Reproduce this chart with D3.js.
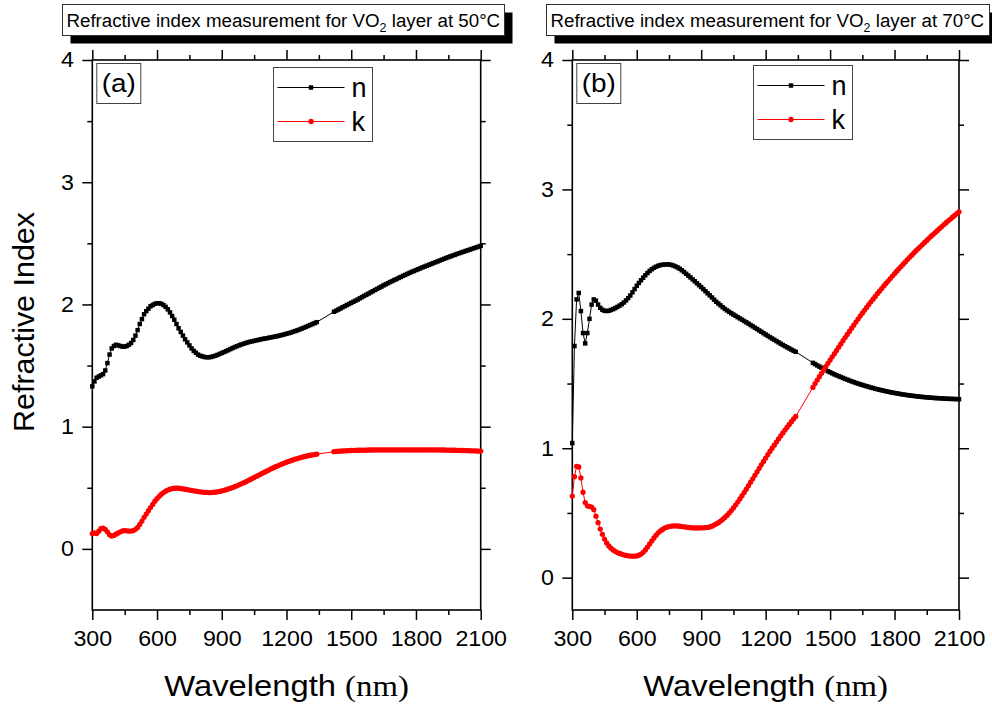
<!DOCTYPE html>
<html>
<head>
<meta charset="utf-8">
<script src="https://d3js.org/d3.v7.min.js"></script>
<style>
    body { margin: 0; background: #fff; }
    svg { display: block; font-family: 'Liberation Sans', Arial, sans-serif; }
    .tick line { stroke: #000; stroke-width: 1.5; }
    .tick text { fill: #000; }
</style>
</head>
<body>
<script>
// wavelength grid (nm): visible detector 300-1340, NIR detector 1420-2100
const wlVis = d3.range(300, 1341, 10);
const wlIr = d3.range(1420, 2101, 10);
const wavelengths = wlVis.concat(wlIr);

const xMajor = [300, 600, 900, 1200, 1500, 1800, 2100];
const xMinor = [450, 750, 1050, 1350, 1650, 1950];
const yMajor = [0, 1, 2, 3, 4];
const yMinor = [0.5, 1.5, 2.5, 3.5];

// (a) 50°C
const nA = [
    1.33, 1.37, 1.40, 1.41, 1.42, 1.43, 1.46, 1.52, 1.59, 1.64,
    1.66, 1.67, 1.665, 1.66, 1.655, 1.655, 1.66, 1.67, 1.685, 1.71,
    1.745, 1.79, 1.84, 1.88, 1.92, 1.945, 1.965, 1.985, 1.995, 2.005,
    2.01, 2.01, 2.005, 1.995, 1.98, 1.96, 1.935, 1.905, 1.875, 1.84,
    1.805, 1.775, 1.745, 1.715, 1.69, 1.665, 1.64, 1.62, 1.605, 1.59,
    1.58, 1.575, 1.57, 1.568, 1.568, 1.57, 1.575, 1.58, 1.587, 1.595,
    1.603, 1.61, 1.618, 1.626, 1.635, 1.643, 1.651, 1.658, 1.665, 1.672,
    1.678, 1.684, 1.689, 1.694, 1.698, 1.702, 1.706, 1.71, 1.714, 1.718,
    1.721, 1.724, 1.728, 1.731, 1.735, 1.738, 1.742, 1.746, 1.75, 1.755,
    1.76, 1.765, 1.77, 1.776, 1.782, 1.788, 1.795, 1.802, 1.809, 1.816,
    1.824, 1.832, 1.84, 1.847, 1.855,
    1.94, 1.949, 1.958, 1.967, 1.977, 1.986, 1.995, 2.004, 2.013, 2.022,
    2.031, 2.04, 2.05, 2.06, 2.07, 2.079, 2.089, 2.099, 2.108, 2.118,
    2.127, 2.137, 2.146, 2.156, 2.165, 2.174, 2.183, 2.191, 2.2, 2.208,
    2.217, 2.225, 2.234, 2.242, 2.25, 2.258, 2.266, 2.273, 2.281, 2.288,
    2.295, 2.303, 2.31, 2.317, 2.324, 2.331, 2.338, 2.345, 2.352, 2.359,
    2.366, 2.373, 2.38, 2.387, 2.393, 2.4, 2.406, 2.413, 2.419, 2.425,
    2.431, 2.437, 2.443, 2.449, 2.455, 2.461, 2.467, 2.473, 2.479
];
const kA = [
    0.125, 0.13, 0.125, 0.145, 0.165, 0.17, 0.16, 0.14, 0.115, 0.105,
    0.11, 0.12, 0.13, 0.14, 0.147, 0.15, 0.148, 0.146, 0.146, 0.15,
    0.16, 0.175, 0.2, 0.228, 0.258, 0.285, 0.312, 0.338, 0.364, 0.39,
    0.412, 0.43, 0.447, 0.461, 0.472, 0.481, 0.488, 0.493, 0.496, 0.497,
    0.496, 0.494, 0.491, 0.488, 0.485, 0.481, 0.478, 0.475, 0.472, 0.469,
    0.467, 0.465, 0.463, 0.462, 0.461, 0.461, 0.462, 0.464, 0.467, 0.47,
    0.474, 0.479, 0.484, 0.49, 0.496, 0.502, 0.509, 0.516, 0.524, 0.532,
    0.54, 0.548, 0.557, 0.566, 0.575, 0.584, 0.593, 0.602, 0.611, 0.62,
    0.629, 0.638, 0.647, 0.656, 0.664, 0.672, 0.68, 0.688, 0.695, 0.702,
    0.709, 0.716, 0.722, 0.728, 0.734, 0.739, 0.744, 0.749, 0.754, 0.758,
    0.762, 0.766, 0.769, 0.772, 0.775,
    0.795, 0.797, 0.799, 0.8, 0.801, 0.802, 0.803, 0.804, 0.805, 0.806,
    0.806, 0.807, 0.807, 0.808, 0.808, 0.808, 0.809, 0.809, 0.809, 0.81,
    0.81, 0.81, 0.81, 0.81, 0.81, 0.81, 0.81, 0.81, 0.81, 0.81,
    0.81, 0.81, 0.81, 0.81, 0.81, 0.81, 0.81, 0.81, 0.81, 0.81,
    0.81, 0.81, 0.81, 0.81, 0.81, 0.81, 0.81, 0.81, 0.81, 0.809,
    0.809, 0.809, 0.808, 0.808, 0.808, 0.807, 0.807, 0.806, 0.806, 0.805,
    0.805, 0.804, 0.804, 0.803, 0.802, 0.802, 0.801, 0.8, 0.8
];

// (b) 70°C
const nB = [
    1.04, 1.79, 2.15, 2.20, 2.06, 1.89, 1.81, 1.89, 2.0, 2.11,
    2.15, 2.14, 2.11, 2.085, 2.07, 2.062, 2.06, 2.062, 2.068, 2.075,
    2.083, 2.092, 2.102, 2.113, 2.126, 2.142, 2.16, 2.18, 2.205, 2.23,
    2.255, 2.277, 2.298, 2.318, 2.337, 2.354, 2.37, 2.383, 2.394, 2.403,
    2.41, 2.415, 2.418, 2.42, 2.421, 2.42, 2.417, 2.412, 2.405, 2.397,
    2.387, 2.375, 2.362, 2.348, 2.334, 2.32, 2.305, 2.29, 2.275, 2.26,
    2.245, 2.229, 2.213, 2.197, 2.181, 2.165, 2.148, 2.132, 2.118, 2.104,
    2.09, 2.077, 2.065, 2.054, 2.043, 2.033, 2.023, 2.013, 2.003, 1.993,
    1.983, 1.973, 1.963, 1.952, 1.942, 1.931, 1.921, 1.91, 1.9, 1.889,
    1.879, 1.868, 1.858, 1.848, 1.838, 1.828, 1.818, 1.808, 1.798, 1.789,
    1.78, 1.771, 1.762, 1.753, 1.745,
    1.66, 1.65, 1.64, 1.631, 1.622, 1.613, 1.604, 1.595, 1.587, 1.579,
    1.571, 1.564, 1.557, 1.55, 1.543, 1.536, 1.53, 1.523, 1.517, 1.511,
    1.505, 1.5, 1.494, 1.489, 1.484, 1.479, 1.474, 1.469, 1.465, 1.46,
    1.456, 1.452, 1.448, 1.444, 1.44, 1.437, 1.433, 1.43, 1.427, 1.424,
    1.421, 1.418, 1.415, 1.413, 1.41, 1.408, 1.406, 1.404, 1.402, 1.4,
    1.398, 1.396, 1.395, 1.393, 1.392, 1.39, 1.389, 1.388, 1.387, 1.386,
    1.385, 1.384, 1.383, 1.382, 1.381, 1.381, 1.38, 1.38, 1.379
];
const kB = [
    0.63, 0.78, 0.86, 0.855, 0.77, 0.66, 0.58, 0.555, 0.55, 0.545,
    0.525, 0.475, 0.425, 0.375, 0.335, 0.298, 0.268, 0.245, 0.228, 0.214,
    0.203, 0.194, 0.187, 0.181, 0.176, 0.172, 0.169, 0.167, 0.166, 0.166,
    0.168, 0.173, 0.182, 0.196, 0.214, 0.236, 0.26, 0.284, 0.307, 0.328,
    0.346, 0.361, 0.373, 0.383, 0.39, 0.395, 0.398, 0.4, 0.4, 0.399,
    0.397, 0.395, 0.393, 0.39, 0.388, 0.386, 0.385, 0.384, 0.384, 0.384,
    0.385, 0.385, 0.386, 0.388, 0.392, 0.398, 0.406, 0.415, 0.425, 0.437,
    0.45, 0.465, 0.481, 0.499, 0.518, 0.539, 0.561, 0.584, 0.608, 0.633,
    0.658, 0.684, 0.71, 0.737, 0.764, 0.791, 0.818, 0.845, 0.872, 0.898,
    0.924, 0.95, 0.975, 1.0, 1.024, 1.048, 1.072, 1.095, 1.118, 1.14,
    1.162, 1.184, 1.205, 1.226, 1.246,
    1.47, 1.5, 1.527, 1.553, 1.579, 1.605, 1.631, 1.656, 1.681, 1.706,
    1.731, 1.756, 1.781, 1.806, 1.831, 1.855, 1.879, 1.903, 1.927, 1.951,
    1.975, 1.998, 2.021, 2.044, 2.066, 2.088, 2.11, 2.131, 2.152, 2.173,
    2.194, 2.214, 2.234, 2.254, 2.273, 2.292, 2.311, 2.33, 2.349, 2.368,
    2.386, 2.404, 2.422, 2.44, 2.458, 2.475, 2.492, 2.509, 2.526, 2.542,
    2.558, 2.574, 2.59, 2.606, 2.622, 2.638, 2.653, 2.668, 2.683, 2.698,
    2.713, 2.728, 2.743, 2.757, 2.771, 2.785, 2.799, 2.813, 2.827
];

const width = 992, height = 706;
const stretch = 'scale(1.08,1)';   // the source figure's lettering is slightly wide
const svg = d3.select('body').append('svg')
    .attr('width', width)
    .attr('height', height);
svg.append('rect').attr('width', width).attr('height', height).attr('fill', '#fff');

const nSym = d3.symbol().type(d3.symbolSquare).size(20);
const kSym = d3.symbol().type(d3.symbolCircle).size(22);

function drawPanel(p) {
    const x = d3.scaleLinear().domain([300, 2100]).range([p.left, p.right]);
    const y = d3.scaleLinear().domain(p.yDomain).range([p.bottom, p.top]);
    const g = svg.append('g');

    // title box with drop shadow
    g.append('rect')
        .attr('x', p.titleX + 8).attr('y', p.titleY + 8)
        .attr('width', p.titleW).attr('height', 31)
        .attr('fill', '#000');
    g.append('rect')
        .attr('x', p.titleX).attr('y', p.titleY)
        .attr('width', p.titleW).attr('height', 31)
        .attr('fill', '#fff').attr('stroke', '#333').attr('stroke-width', 1);
    const t = g.append('text')
        .attr('transform', 'translate(' + (p.titleX + 4) + ',' + (p.titleY + 22) + ') scale(1.04,1)')
        .attr('font-size', 18)
        .text('Refractive index measurement for VO');
    t.append('tspan').attr('dy', 5).attr('font-size', 12).text('2');
    t.append('tspan').attr('dy', -5).text(' layer at ' + p.temp + '°C');

    // axes: major ticks labelled on left/bottom, mirrored unlabelled on top/right
    const axes = [
        [d3.axisBottom(x), xMajor, 'translate(0,' + p.bottom + ')', true],
        [d3.axisTop(x), xMajor, 'translate(0,' + p.top + ')', false],
        [d3.axisLeft(y), yMajor, 'translate(' + p.left + ',0)', true],
        [d3.axisRight(y), yMajor, 'translate(' + p.right + ',0)', false]
    ];
    const minorVals = [xMinor, xMinor, yMinor, yMinor];
    axes.forEach((a, i) => {
        const maj = a[0].tickValues(a[1]).tickSize(10).tickSizeOuter(0)
            .tickPadding(i < 2 ? 11 : 7)
            .tickFormat(a[3] ? d3.format('d') : '');
        const ga = g.append('g').attr('transform', a[2]).call(maj);
        ga.select('.domain').remove();
        ga.selectAll('text')
            .attr('font-size', 21.5)
            .attr('font-family', "'Liberation Sans', Arial, sans-serif")
            .attr('transform', stretch);
        const minor = (i === 0 ? d3.axisBottom(x) : i === 1 ? d3.axisTop(x) : i === 2 ? d3.axisLeft(y) : d3.axisRight(y))
            .tickValues(minorVals[i]).tickSize(5).tickFormat('');
        const gm = g.append('g').attr('transform', a[2]).call(minor);
        gm.select('.domain').remove();
    });

    g.append('rect')
        .attr('x', p.left).attr('y', p.top)
        .attr('width', p.right - p.left).attr('height', p.bottom - p.top)
        .attr('fill', 'none').attr('stroke', '#000').attr('stroke-width', 1.6);

    // data
    const series = [
        { vals: p.n, color: '#000', sym: nSym },
        { vals: p.k, color: '#ff0000', sym: kSym }
    ];
    series.forEach(s => {
        const pts = wavelengths.map((w, i) => [w, s.vals[i]]);
        g.append('path')
            .attr('d', d3.line().x(d => x(d[0])).y(d => y(d[1]))(pts))
            .attr('fill', 'none').attr('stroke', s.color).attr('stroke-width', 1);
        g.append('g').selectAll('path')
            .data(pts).join('path')
            .attr('transform', d => 'translate(' + x(d[0]) + ',' + y(d[1]) + ')')
            .attr('d', s.sym)
            .attr('fill', s.color);
    });

    // panel label box
    g.append('rect')
        .attr('x', p.left + 4.5).attr('y', p.top + 3.5)
        .attr('width', 44).attr('height', 40)
        .attr('fill', '#fff').attr('stroke', '#444').attr('stroke-width', 1);
    g.append('text')
        .attr('transform', 'translate(' + (p.left + 26.5) + ',' + (p.top + 32) + ') scale(1.12,1)')
        .attr('text-anchor', 'middle').attr('font-size', 25)
        .text(p.label);

    // legend
    const lg = g.append('g').attr('transform', 'translate(' + p.legX + ',' + p.legY + ')');
    lg.append('rect')
        .attr('width', 99).attr('height', 74)
        .attr('fill', '#fff').attr('stroke', '#444').attr('stroke-width', 1);
    [['n', '#000', nSym, 20], ['k', '#ff0000', kSym, 54]].forEach(e => {
        lg.append('line')
            .attr('x1', 4).attr('x2', 71).attr('y1', e[3]).attr('y2', e[3])
            .attr('stroke', e[1]).attr('stroke-width', 1);
        lg.append('path')
            .attr('transform', 'translate(37.5,' + e[3] + ')')
            .attr('d', e[2]).attr('fill', e[1]);
        lg.append('text')
            .attr('x', 78).attr('y', e[3] + 9)
            .attr('font-size', 27).text(e[0]);
    });

    // x axis title
    const xt = g.append('text')
        .attr('transform', 'translate(' + ((p.left + p.right) / 2) + ',696) scale(1.13,1)')
        .attr('text-anchor', 'middle').attr('font-size', 29)
        .text('Wavelength ');
    xt.append('tspan').attr('font-family', "'Liberation Serif', 'Times New Roman', serif").text('(nm)');
}

drawPanel({
    left: 92.3, right: 480.7, top: 60, bottom: 610,
    yDomain: [-0.5, 4], n: nA, k: kA, temp: 50, label: '(a)',
    titleX: 62.5, titleY: 4.5, titleW: 442, legX: 273.5, legY: 67.5
});
drawPanel({
    left: 572.3, right: 959, top: 60, bottom: 610,
    yDomain: [-0.25, 4], n: nB, k: kB, temp: 70, label: '(b)',
    titleX: 546.5, titleY: 4.5, titleW: 443, legX: 753.5, legY: 65.5
});

// shared y axis title
svg.append('text')
    .attr('transform', 'translate(34,322) rotate(-90) scale(1.05,1)')
    .attr('text-anchor', 'middle').attr('font-size', 29)
    .text('Refractive Index');
</script>
</body>
</html>
